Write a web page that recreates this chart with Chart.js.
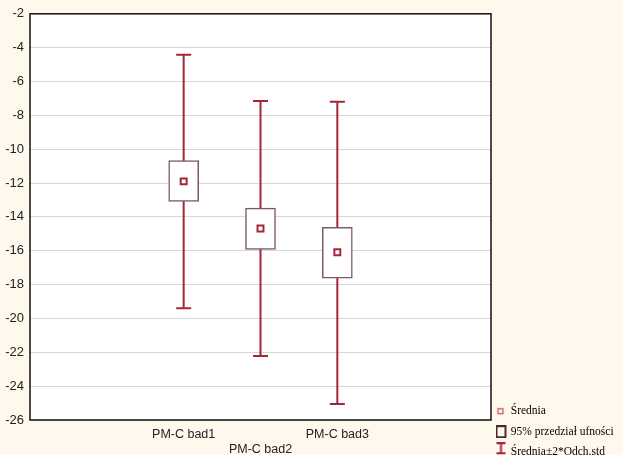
<!DOCTYPE html>
<html>
<head>
<meta charset="utf-8">
<script src="https://cdn.jsdelivr.net/npm/chart.js@4.4.1/dist/chart.umd.min.js"></script>
<style>
    html, body { margin: 0; padding: 0; background: #fff8ec; }
    #wrap { width: 623px; height: 455px; position: relative; }
</style>
</head>
<body>
<div id="wrap"><canvas id="chart"></canvas></div>
<script>
// data
const categories = ['PM-C bad1', 'PM-C bad2', 'PM-C bad3'];
const catPos = [2, 3, 4];          // positions on the 0..6 x axis
const means = [-11.9, -14.68, -16.09];
const ciLow = [-13.08, -15.92, -17.62];
const ciHigh = [-10.67, -13.48, -14.62];
const sdLow = [-19.39, -22.22, -25.05];
const sdHigh = [-4.42, -7.15, -7.19];
const legendLabels = ['Średnia', '95% przedział ufności', 'Średnia±2*Odch.std'];

const RED = '#a3263a';
const BOX = '#7c5a63';

// small icons for the legend (glyph sits on the left part of the canvas)
function makeIcon(w, h, draw) {
    const c = document.createElement('canvas');
    c.width = w; c.height = h;
    draw(c.getContext('2d'));
    return c;
}
const meanIcon = makeIcon(14, 8, ctx => {
    ctx.strokeStyle = '#c0505f'; ctx.lineWidth = 1.2;
    ctx.strokeRect(2.5, 1.5, 5, 5);
});
const boxIcon = makeIcon(14, 13, ctx => {
    ctx.strokeStyle = '#4a2a30'; ctx.lineWidth = 2;
    ctx.strokeRect(1, 1, 9, 11);
});
const sdIcon = makeIcon(14, 20, ctx => {
    ctx.strokeStyle = RED; ctx.lineWidth = 2;
    ctx.beginPath();
    ctx.moveTo(1, 1); ctx.lineTo(10, 1);
    ctx.moveTo(5.5, 1); ctx.lineTo(5.5, 11);
    ctx.moveTo(1, 11); ctx.lineTo(10, 11);
    ctx.stroke();
});
const legendIcons = [meanIcon, boxIcon, sdIcon];

const whiskerSets = catPos.map((p, i) => ({
    type: 'line',
    data: [{x: p, y: sdHigh[i]}, {x: p, y: sdLow[i]}],
    borderColor: RED,
    borderWidth: 2,
    pointStyle: 'line',
    pointRadius: 7.5,
    pointHoverRadius: 7.5,
    pointBorderWidth: 2,
    pointBorderColor: RED,
    order: 2
}));

const boxSet = {
    type: 'bar',
    data: catPos.map((p, i) => ({x: p, y: [ciLow[i], ciHigh[i]]})),
    backgroundColor: '#ffffff',
    borderColor: BOX,
    borderWidth: 1.5,
    borderSkipped: false,
    barThickness: 30,
    order: 1
};

const meanSet = {
    type: 'scatter',
    data: catPos.map((p, i) => ({x: p, y: means[i]})),
    pointStyle: 'rect',
    pointRadius: 4.2,
    pointHoverRadius: 4.2,
    backgroundColor: '#ffffff',
    borderColor: RED,
    borderWidth: 2,
    order: 0
};

const plotFrame = {
    id: 'plotFrame',
    beforeDraw(chart) {
        const {ctx, chartArea: a} = chart;
        ctx.save();
        ctx.fillStyle = '#ffffff';
        ctx.fillRect(a.left, a.top, a.right - a.left, a.bottom - a.top);
        ctx.restore();
    },
    afterDraw(chart) {
        const {ctx, chartArea: a} = chart;
        ctx.save();
        ctx.strokeStyle = '#111111';
        ctx.lineWidth = 1.5;
        ctx.strokeRect(a.left, a.top, a.right - a.left, a.bottom - a.top);
        ctx.restore();
    }
};

new Chart(document.getElementById('chart'), {
    type: 'scatter',
    data: { datasets: [...whiskerSets, boxSet, meanSet] },
    options: {
        responsive: true,
        maintainAspectRatio: false,
        animation: false,
        // legend hangs a bit below the canvas edge, like the original
        layout: { padding: { top: 13, right: 0, bottom: -12, left: 0 } },
        scales: {
            x: {
                type: 'linear',
                min: 0, max: 6,
                offset: false,
                grid: { display: false, offset: false, drawTicks: false },
                border: { display: false },
                ticks: {
                    stepSize: 1,
                    padding: 7,
                    color: '#222',
                    font: { family: 'Liberation Sans', size: 12.5 },
                    callback: v => {
                        const i = catPos.indexOf(v);
                        if (i < 0) return '';
                        return i % 2 === 1 ? ['', categories[i]] : categories[i];
                    }
                },
                afterFit: s => { s.height = 47; }
            },
            y: {
                type: 'linear',
                min: -26, max: -2,
                beginAtZero: false,
                grid: { color: '#d8d8d8', lineWidth: 1, drawTicks: false },
                border: { display: false },
                ticks: {
                    stepSize: 2,
                    padding: 6,
                    color: '#222',
                    font: { family: 'Liberation Sans', size: 13 }
                },
                afterFit: s => { s.width = 30; }
            }
        },
        plugins: {
            tooltip: { enabled: false },
            legend: {
                position: 'right',
                align: 'end',
                maxWidth: 132,
                onClick: null,
                labels: {
                    usePointStyle: true,
                    pointStyleWidth: 5,
                    color: '#111',
                    padding: 9,
                    font: { family: 'Liberation Serif', size: 11.5 },
                    generateLabels: () => legendLabels.map((t, i) => ({
                        text: t,
                        pointStyle: legendIcons[i],
                        fillStyle: 'transparent',
                        strokeStyle: 'transparent',
                        lineWidth: 0,
                        hidden: false,
                        datasetIndex: i
                    }))
                }
            }
        }
    },
    plugins: [plotFrame]
});
</script>
</body>
</html>
